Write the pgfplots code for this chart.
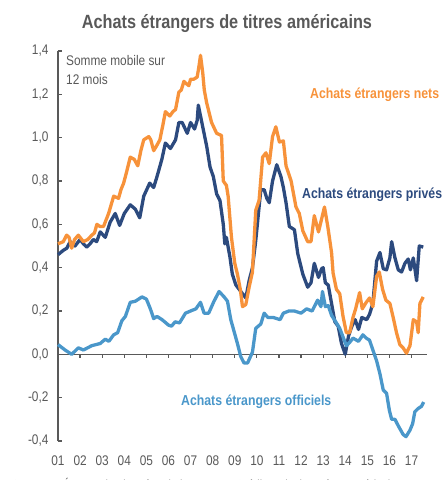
\documentclass[border=0pt]{standalone}
\usepackage{fontspec}
\setmainfont{Liberation Sans}[FakeStretch=0.85]
\usepackage{pgfplots}
\pgfplotsset{compat=1.18}
\definecolor{textgray}{HTML}{595959}
\definecolor{axisgray}{HTML}{595959}
\definecolor{cOrange}{HTML}{F7923A}
\definecolor{cDark}{HTML}{2C4A7E}
\definecolor{cLight}{HTML}{4A97CA}
\begin{document}
\begin{tikzpicture}
\useasboundingbox (-58bp,-39bp) rectangle (388bp,441bp);
\begin{axis}[
  at={(0,0)}, anchor=south west,
  scale only axis, width=369bp, height=390bp,
  xmin=2001, xmax=2017.7, ymin=-0.4, ymax=1.4,
  clip=false,
  axis line style={draw=none},
  tick style={draw=none},
  xtick={2001,2002,2003,2004,2005,2006,2007,2008,2009,2010,2011,2012,2013,2014,2015,2016,2017},
  xticklabels={01,02,03,04,05,06,07,08,09,10,11,12,13,14,15,16,17},
  ytick={-0.4,-0.2,0,0.2,0.4,0.6,0.8,1.0,1.2,1.4},
  yticklabel style={/pgf/number format/use comma, /pgf/number format/fixed, /pgf/number format/fixed zerofill, /pgf/number format/precision=1, /pgf/number format/assume math mode=true, xshift=-6bp},
  tick label style={font=\fontsize{14}{14}\selectfont, text=textgray},
  xticklabel style={yshift=-11bp},
  every axis plot/.append style={line width=3.3bp, line join=round, no markers},
]
\draw[axisgray, line width=1.5bp] (axis cs:2001,-0.4) -- (axis cs:2001,1.4);
\draw[axisgray, line width=1.5bp] (axis cs:2001,0) -- (axis cs:2017.7,0);
\pgfplotsinvokeforeach{-0.4,-0.2,0,0.2,0.4,0.6,0.8,1.0,1.2,1.4}{
  \draw[axisgray, line width=1.2bp] (axis cs:2001,#1) -- ++(4bp,0bp);
}
\pgfplotsinvokeforeach{2002,2003,2004,2005,2006,2007,2008,2009,2010,2011,2012,2013,2014,2015,2016,2017}{
  \draw[axisgray, line width=1.2bp] (axis cs:#1,0) -- ++(0bp,-4bp);
}
% Achats etrangers prives
\addplot[cDark] coordinates {
(2001.0,0.46) (2001.24,0.48) (2001.4,0.49) (2001.55,0.52) (2001.77,0.50) (2002.0,0.53)
(2002.15,0.51) (2002.3,0.495) (2002.45,0.51) (2002.6,0.53) (2002.75,0.52) (2002.91,0.565)
(2003.14,0.54) (2003.36,0.61) (2003.59,0.65) (2003.79,0.595) (2004.0,0.65) (2004.27,0.69)
(2004.5,0.67) (2004.7,0.63) (2004.88,0.73) (2005.15,0.79) (2005.33,0.77) (2005.48,0.82)
(2005.7,0.90) (2005.86,0.975) (2006.09,0.95) (2006.32,0.99) (2006.47,1.07) (2006.62,1.07)
(2006.85,1.02) (2007.0,1.07) (2007.18,1.04) (2007.3,1.08) (2007.35,1.15) (2007.45,1.10)
(2007.58,1.035) (2007.73,0.96) (2007.88,0.865) (2008.03,0.82) (2008.18,0.74) (2008.33,0.71)
(2008.48,0.60) (2008.55,0.51) (2008.62,0.54) (2008.78,0.45) (2008.89,0.37) (2009.05,0.32)
(2009.2,0.30) (2009.35,0.28) (2009.5,0.26) (2009.65,0.34) (2009.8,0.40) (2009.95,0.525)
(2010.1,0.68) (2010.18,0.76) (2010.33,0.76) (2010.45,0.72) (2010.56,0.70) (2010.71,0.80)
(2010.9,0.875) (2011.09,0.82) (2011.2,0.77) (2011.32,0.70) (2011.47,0.59) (2011.7,0.575)
(2011.85,0.465) (2012.08,0.37) (2012.3,0.31) (2012.45,0.33) (2012.6,0.42) (2012.79,0.355)
(2012.93,0.395) (2013.0,0.40) (2013.1,0.33) (2013.23,0.32) (2013.38,0.235) (2013.53,0.15)
(2013.68,0.13) (2013.83,0.05) (2014.0,0.0) (2014.15,0.085) (2014.3,0.13) (2014.45,0.16)
(2014.6,0.115) (2014.75,0.17) (2014.97,0.16) (2015.1,0.185) (2015.25,0.235) (2015.42,0.43)
(2015.57,0.47) (2015.72,0.395) (2015.87,0.39) (2016.02,0.445) (2016.1,0.52) (2016.25,0.445)
(2016.4,0.39) (2016.55,0.38) (2016.7,0.42) (2016.85,0.44) (2016.95,0.39) (2017.08,0.445)
(2017.23,0.34) (2017.35,0.50) (2017.53,0.495)
};
% Achats etrangers nets
\addplot[cOrange] coordinates {
(2001.0,0.51) (2001.24,0.52) (2001.39,0.55) (2001.5,0.54) (2001.62,0.49) (2001.75,0.53)
(2001.92,0.55) (2002.15,0.52) (2002.35,0.53) (2002.53,0.55) (2002.65,0.56) (2002.76,0.60)
(2002.9,0.59) (2003.06,0.59) (2003.29,0.65) (2003.52,0.73) (2003.74,0.72) (2003.85,0.76)
(2003.97,0.79) (2004.1,0.84) (2004.27,0.91) (2004.45,0.90) (2004.61,0.87) (2004.75,0.94)
(2004.88,0.99) (2005.11,1.005) (2005.2,0.99) (2005.33,0.94) (2005.45,0.96) (2005.61,0.99)
(2005.75,1.06) (2005.86,1.12) (2006.06,1.10) (2006.2,1.12) (2006.32,1.13) (2006.47,1.21)
(2006.58,1.22) (2006.70,1.26) (2006.8,1.25) (2006.92,1.24) (2007.0,1.27) (2007.15,1.27)
(2007.30,1.28) (2007.38,1.33) (2007.45,1.38) (2007.55,1.30) (2007.62,1.22) (2007.73,1.16)
(2007.95,1.07) (2008.18,1.02) (2008.4,1.01) (2008.48,0.80) (2008.62,0.78) (2008.7,0.73)
(2008.85,0.54) (2009.0,0.42) (2009.12,0.37) (2009.25,0.30) (2009.35,0.22) (2009.5,0.23)
(2009.65,0.31) (2009.8,0.38) (2009.95,0.665) (2010.1,0.71) (2010.26,0.91) (2010.41,0.93)
(2010.56,0.88) (2010.71,1.005) (2010.86,1.05) (2011.02,0.98) (2011.2,0.985) (2011.32,0.87)
(2011.55,0.80) (2011.77,0.68) (2011.92,0.65) (2012.08,0.57) (2012.3,0.52) (2012.45,0.52)
(2012.6,0.64) (2012.79,0.565) (2013.06,0.68) (2013.21,0.59) (2013.38,0.47) (2013.45,0.375)
(2013.6,0.30) (2013.75,0.28) (2013.9,0.175) (2014.05,0.10) (2014.2,0.10) (2014.35,0.17)
(2014.47,0.21) (2014.65,0.285) (2014.77,0.21) (2014.95,0.24) (2015.1,0.26) (2015.25,0.22)
(2015.42,0.36) (2015.54,0.38) (2015.69,0.30) (2015.84,0.25) (2016.02,0.235) (2016.17,0.17)
(2016.32,0.10) (2016.47,0.045) (2016.62,0.03) (2016.77,0.005) (2016.93,0.04) (2017.08,0.16)
(2017.23,0.15) (2017.3,0.10) (2017.38,0.235) (2017.53,0.265)
};
% Achats etrangers officiels
\addplot[cLight] coordinates {
(2001.0,0.045) (2001.32,0.02) (2001.62,0.00) (2001.92,0.03) (2002.15,0.02) (2002.53,0.04)
(2002.91,0.05) (2003.14,0.07) (2003.3,0.06) (2003.52,0.09) (2003.7,0.10) (2003.89,0.155)
(2004.05,0.175) (2004.27,0.24) (2004.5,0.245) (2004.8,0.265) (2005.0,0.255) (2005.18,0.21)
(2005.33,0.165) (2005.48,0.175) (2005.71,0.16) (2006.0,0.135) (2006.14,0.13) (2006.3,0.15)
(2006.5,0.145) (2006.77,0.19) (2007.0,0.20) (2007.24,0.21) (2007.45,0.24) (2007.61,0.19)
(2007.82,0.19) (2008.06,0.245) (2008.29,0.29) (2008.52,0.265) (2008.67,0.245) (2008.82,0.16)
(2009.12,0.05) (2009.27,-0.01) (2009.42,-0.04) (2009.58,-0.04) (2009.8,0.01) (2009.95,0.12)
(2010.18,0.14) (2010.33,0.19) (2010.5,0.17) (2010.75,0.17) (2011.05,0.16) (2011.2,0.19)
(2011.45,0.20) (2011.7,0.20) (2012.0,0.19) (2012.25,0.21) (2012.5,0.20) (2012.75,0.25)
(2012.9,0.22) (2012.97,0.29) (2013.1,0.22) (2013.23,0.225) (2013.38,0.18) (2013.6,0.145)
(2013.75,0.12) (2013.9,0.08) (2014.05,0.04) (2014.2,0.055) (2014.35,0.075) (2014.6,0.06)
(2014.8,0.09) (2014.95,0.075) (2015.1,0.065) (2015.2,0.035) (2015.42,-0.03) (2015.57,-0.09)
(2015.72,-0.165) (2015.87,-0.18) (2016.0,-0.26) (2016.1,-0.30) (2016.25,-0.30) (2016.4,-0.33)
(2016.62,-0.37) (2016.75,-0.38) (2016.93,-0.35) (2017.05,-0.32) (2017.15,-0.265) (2017.3,-0.25)
(2017.45,-0.24) (2017.55,-0.22)
};
\end{axis}
\node[font=\fontsize{19.2}{20}\selectfont\bfseries, text=textgray] at (169bp,417bp) {Achats étrangers de titres américains};
\node[anchor=west, font=\fontsize{14.5}{15}\selectfont\bfseries, text=cOrange, inner sep=0] at (252bp,346bp) {Achats étrangers nets};
\node[anchor=west, font=\fontsize{14.5}{15}\selectfont\bfseries, text=cDark, inner sep=0] at (244bp,246bp) {Achats étrangers privés};
\node[anchor=west, font=\fontsize{14.5}{15}\selectfont\bfseries, text=cLight, inner sep=0] at (123bp,39bp) {Achats étrangers officiels};
\node[anchor=north west, align=left, font=\fontsize{14}{19.5}\selectfont, text=textgray, inner sep=0] at (8bp,386bp) {Somme mobile sur\\12 mois};
\node[anchor=base west, font=\fontsize{13}{13}\selectfont, text=textgray, inner sep=0] at (-46bp,-48bp) {Sources : États-Unis, données de la Banque, Crédit Agricole, Trésor américain};
\end{tikzpicture}
\end{document}
